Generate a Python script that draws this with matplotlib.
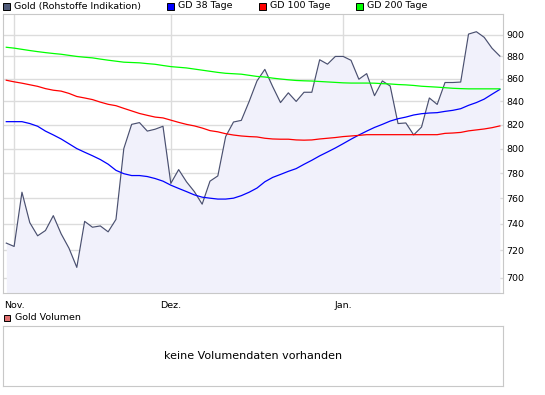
import matplotlib.pyplot as plt
import numpy as np
from matplotlib.patches import Rectangle
from matplotlib.ticker import NullLocator

# daily closes, 31.10.2008 - 30.01.2009 (trading days)
gold = [725.5, 723, 764.7, 741, 731, 735, 746.4, 732.5, 721.7, 707.5,
        742, 737.5, 738.5, 734, 743.5, 800, 820.3, 821.8, 814.6, 816.2,
        818.7, 771.7, 782.8, 773, 765.2, 755.3, 773.5, 777.7, 810, 822.3,
        823.7, 840, 858, 868.3, 853, 839, 847.5, 840, 848, 848,
        877, 873, 880, 880, 876.5, 859.5, 864.5, 845, 858, 853.5,
        821, 821.5, 811.4, 818, 843, 837.4, 856.6, 856.6, 857, 900.6,
        902.8, 897.6, 887.5, 880.3]

gd38 = [822.6, 822.6, 822.6, 821, 818.7, 814.6, 811.4, 808, 804, 800,
        797, 794.1, 791, 787.2, 782.2, 779.5, 778, 778, 777.2, 775.6,
        773.5, 770.3, 767.7, 765.2, 762.6, 760.8, 760, 759.3, 759.3, 760,
        762, 764.7, 768, 773, 776.5, 778.9, 781.4, 783.6, 787.1, 790.4,
        794, 797.2, 800.5, 804.1, 807.8, 811.3, 814.6, 817.7, 820.3, 823.1,
        825.1, 826.5, 828.3, 829.4, 830, 830.3, 831.4, 832.3, 833.7, 836.6,
        839, 842, 846.3, 850.5]

gd100 = [858.6, 857.2, 856, 854.6, 853.2, 851.2, 849.8, 849, 847, 844.3,
         843, 841.6, 839.4, 837.5, 836.3, 834, 831.8, 829.6, 828, 826.5,
         825.8, 823.9, 822, 820.3, 819, 817.2, 815, 814, 812.4, 811.3,
         810.5, 810, 809.7, 808.6, 808, 807.8, 807.8, 807.2, 807, 807.2,
         808, 808.6, 809.2, 810, 810.5, 811, 811.6, 811.6, 811.6, 811.6,
         811.6, 811.6, 811.6, 811.6, 811.6, 811.6, 812.7, 813, 813.5, 814.8,
         815.6, 816.4, 817.5, 819]

gd200 = [888.4, 887.6, 886.5, 885.4, 884.4, 883.5, 882.7, 882, 881, 880,
         879.3, 878.7, 877.6, 876.6, 875.7, 874.8, 874.5, 874.2, 873.5, 872.9,
         871.8, 870.8, 870.2, 869.6, 868.6, 867.6, 866.6, 865.6, 864.8, 864.4,
         864, 863, 862, 861.5, 860.5, 859.7, 859, 858.4, 858.1, 857.9,
         857.5, 857.1, 856.7, 856.3, 856.1, 856.1, 856.1, 856, 855.6, 855.3,
         854.8, 854.5, 854, 853.3, 852.9, 852.5, 852, 851.5, 851.2, 851,
         851, 851, 851, 851]

month_pos = [1, 21, 43]
month_labels = ["Nov.", "Dez.", "Jan."]
y_ticks = [700, 720, 740, 760, 780, 800, 820, 840, 860, 880, 900]

W, H = 545, 395
GRID = "#dcdcdc"
EDGE = "#c8c8c8"
FS = 6.8

plt.rcParams['font.family'] = 'DejaVu Sans'

fig = plt.figure(figsize=(W / 100, H / 100), dpi=100)


def box(x0, y0, x1, y1):
    return [x0 / W, 1 - y1 / H, (x1 - x0) / W, (y1 - y0) / H]


x = np.arange(len(gold))

ax = fig.add_axes(box(3, 14, 503, 293))
ax.set_yscale('log')
ax.fill_between(x, gold, 600, color="#f1f1fb", lw=0, zorder=1)
ax.plot(x, gold, color="#4a5070", lw=0.85, zorder=3)
ax.plot(x, gd38, color="#0000ff", lw=0.9, zorder=4)
ax.plot(x, gd100, color="#ff0000", lw=0.9, zorder=4)
ax.plot(x, gd200, color="#00ff00", lw=0.9, zorder=4)

ax.set_xlim(-0.42, 63.4)
ax.set_ylim(689, 919.5)
ax.yaxis.set_minor_locator(NullLocator())
ax.set_yticks(y_ticks)
ax.set_yticklabels([str(v) for v in y_ticks])
ax.set_xticks(month_pos)
ax.set_xticklabels(month_labels)
ax.yaxis.tick_right()
ax.tick_params(axis='y', length=0, pad=2.6, labelsize=FS)
ax.tick_params(axis='x', length=0, pad=5.5, labelsize=FS)
ax.grid(True, color=GRID, lw=1.0, zorder=0)
ax.set_axisbelow(True)
for s in ax.spines.values():
    s.set_color(EDGE)

# legend row on top
legend = [("Gold (Rohstoffe Indikation)", "#4f5a78", 3),
          ("GD 38 Tage", "#0000ff", 167),
          ("GD 100 Tage", "#ff0000", 259),
          ("GD 200 Tage", "#00ff00", 356)]
for label, col, lx in legend:
    fig.add_artist(Rectangle((lx / W, 1 - 9.5 / H), 7 / W, 7 / H,
                             transform=fig.transFigure, facecolor=col,
                             edgecolor="#000000", lw=0.7))
    fig.text((lx + 11) / W, 1 - 6 / H, label, fontsize=FS, va='center')

# volume panel
fig.add_artist(Rectangle((3.5 / W, 1 - 321 / H), 6 / W, 6 / H,
                         transform=fig.transFigure, facecolor="#e07070",
                         edgecolor="#000000", lw=0.7))
fig.text(15 / W, 1 - 318 / H, "Gold Volumen", fontsize=FS, va='center')

ax2 = fig.add_axes(box(3, 326, 503, 386))
ax2.set_xticks([])
ax2.set_yticks([])
for s in ax2.spines.values():
    s.set_color(EDGE)
ax2.text(0.5, 0.5, "keine Volumendaten vorhanden", transform=ax2.transAxes,
         ha='center', va='center', fontsize=8)

plt.savefig("out.png", dpi=100)
